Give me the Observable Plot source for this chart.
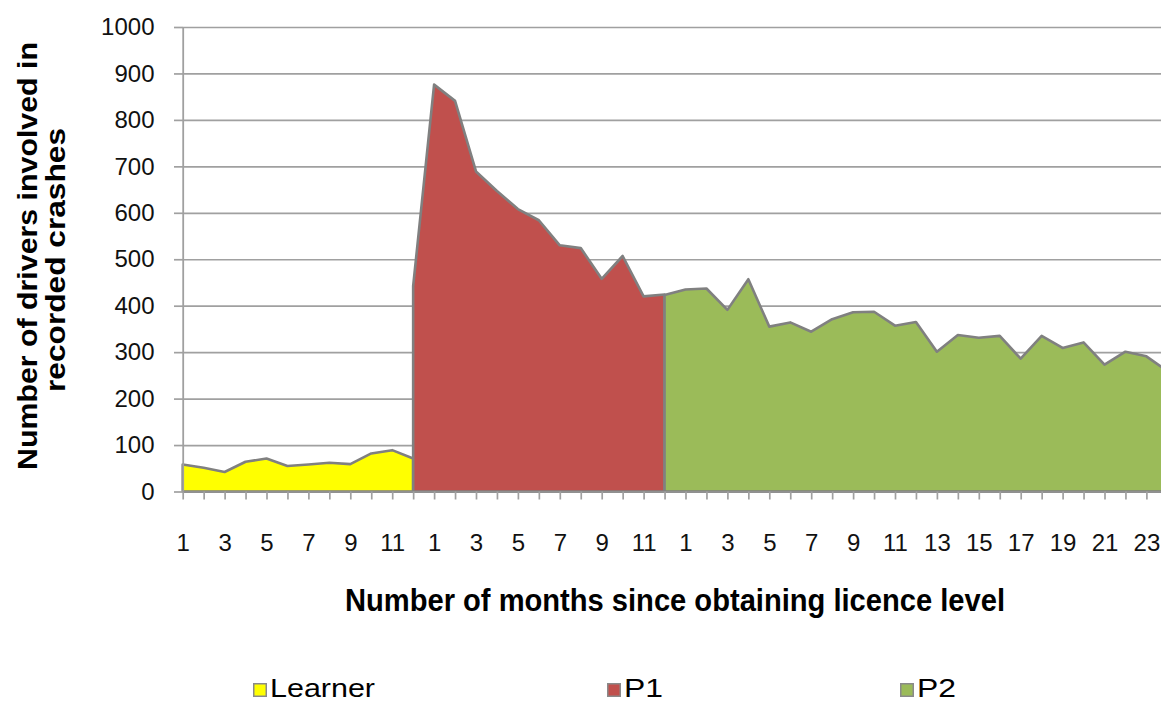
<!DOCTYPE html>
<html><head><meta charset="utf-8">
<script src="https://cdn.jsdelivr.net/npm/d3@7"></script>
<script src="https://cdn.jsdelivr.net/npm/@observablehq/plot@0.6"></script>
<style>
body{margin:0;background:#fff;font-family:"Liberation Sans",Arial,sans-serif;}
#chart svg{display:block;}
</style></head><body><div id="chart"></div>
<script>
// ---- data ----
const seriesNames = ["Learner", "P1", "P2"];
const seriesColors = ["#FFFF00", "#C0504D", "#9BBB59"];
const periodLengths = [12, 12, 24];
const learner = [58, 51, 42, 64, 71, 55, 58, 62, 59, 82, 89, 71];
const p1Start = 442;   // value at the boundary with the Learner period
const p1 = [876, 841, 689, 647, 608, 584, 530, 524, 458, 507, 420, 424];
const p2Start = 423;   // value at the boundary with the P1 period
const p2 = [435, 437, 391, 457, 355, 364, 344, 371, 386, 387, 357, 365,
            301, 337, 331, 335, 286, 335, 309, 321, 273, 301, 291, 259];
const yTicks = [0, 100, 200, 300, 400, 500, 600, 700, 800, 900, 1000];
const yTitle = ["Number of drivers involved in", "recorded crashes"];
const xTitle = "Number of months since obtaining licence level";

// ---- build rows (x = category index along the axis) ----
const learnerRows = learner.map((v, i) => ({x: i, v, s: "Learner"}));
const p1Rows = [{x: 11, v: p1Start, s: "P1"}, ...p1.map((v, i) => ({x: 12 + i, v, s: "P1"}))];
const p2Rows = [{x: 23, v: p2Start, s: "P2"}, ...p2.map((v, i) => ({x: 24 + i, v, s: "P2"}))];
const nCats = d3.sum(periodLengths);
const monthOf = i => {
  let k = i;
  for (const L of periodLengths) { if (k < L) return k + 1; k -= L; }
  return k + 1;
};
const xLabel = i => (monthOf(i) % 2 === 1 ? String(monthOf(i)) : "");

const W = 1161, H = 640;
const step = 20.95;
const areaOpts = (c) => ({x: "x", y: "v", fill: c, stroke: "#808080", strokeWidth: 2.6, strokeLinejoin: "round"});

const plot = Plot.plot({
  width: W, height: H,
  marginLeft: 183, marginRight: 0, marginTop: 27, marginBottom: H - 491.5,
  x: {domain: [0, nCats - 1], range: [182.7, 182.7 + step * (nCats - 1)]},
  y: {domain: [0, 1000], range: [491.5, 27]},
  style: {fontFamily: "'Liberation Sans', Arial, sans-serif", fontSize: "24px", color: "#000", background: "#fff", overflow: "hidden"},
  marks: [
    Plot.ruleY(yTicks.slice(1), {stroke: "#a0a0a0", strokeWidth: 1.7}),
    Plot.areaY(learnerRows, areaOpts(seriesColors[0])),
    Plot.areaY(p1Rows, areaOpts(seriesColors[1])),
    Plot.areaY(p2Rows, areaOpts(seriesColors[2])),
    Plot.ruleX([0], {stroke: "#a0a0a0", strokeWidth: 1.8}),
    Plot.ruleY([0], {stroke: "#909090", strokeWidth: 2.2}),
    Plot.axisY({ticks: yTicks, tickFormat: d => String(d), tickSize: 9, tickPadding: 20, stroke: "#a0a0a0", strokeWidth: 1.7, fill: "#111", label: null, fontSize: 24}),
    Plot.axisX({ticks: d3.range(nCats), tickFormat: xLabel, tickSize: 8, tickPadding: 34, stroke: "#a0a0a0", strokeWidth: 1.7, fill: "#111", label: null, fontSize: 24})
  ]
});

const svg = d3.select(plot);
svg.append("text")
  .attr("transform", "translate(37,470) rotate(-90)")
  .attr("text-anchor", "start")
  .attr("font-size", 28).attr("font-weight", "bold").attr("fill", "#000")
  .attr("textLength", 428).attr("lengthAdjust", "spacingAndGlyphs")
  .text(yTitle[0]);
svg.append("text")
  .attr("transform", "translate(65,392) rotate(-90)")
  .attr("text-anchor", "start")
  .attr("font-size", 28).attr("font-weight", "bold").attr("fill", "#000")
  .attr("textLength", 264).attr("lengthAdjust", "spacingAndGlyphs")
  .text(yTitle[1]);
svg.append("text")
  .attr("x", 345).attr("y", 611)
  .attr("text-anchor", "start")
  .attr("font-size", 31).attr("font-weight", "bold").attr("fill", "#000")
  .attr("textLength", 660).attr("lengthAdjust", "spacingAndGlyphs")
  .text(xTitle);

document.getElementById("chart").appendChild(plot);

// ---- legend below the chart ----
const legendLayout = [{x: 253, w: 105}, {x: 607, w: 39}, {x: 900, w: 39}];
const leg = d3.select("#chart").append("svg")
  .attr("width", W).attr("height", 702 - H)
  .style("display", "block")
  .style("font-family", "'Liberation Sans', Arial, sans-serif");
seriesNames.forEach((name, i) => {
  const L = legendLayout[i];
  leg.append("rect").attr("x", L.x + 0.75).attr("y", 43.75).attr("width", 12.5).attr("height", 12.5)
    .attr("fill", seriesColors[i]).attr("stroke", "#8a8a8a").attr("stroke-width", 1.5);
  leg.append("text").attr("x", L.x + 17).attr("y", 57).attr("font-size", 26).attr("fill", "#000")
    .attr("text-anchor", "start")
    .attr("textLength", L.w).attr("lengthAdjust", "spacingAndGlyphs").text(name);
});
</script></body></html>
